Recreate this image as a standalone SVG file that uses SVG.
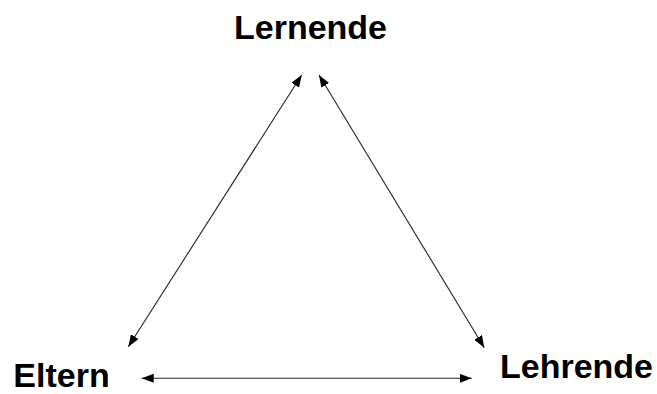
<svg xmlns="http://www.w3.org/2000/svg" width="657" height="394" viewBox="0 0 657 394">
<style>
.lbl{font-family:"Liberation Sans",Arial,sans-serif;font-weight:bold;font-size:34px;fill:#000;text-anchor:middle}
.con{stroke:#222;stroke-width:1.1;fill:none;marker-start:url(#ah);marker-end:url(#ah)}
</style>
<defs>
<marker id="ah" markerUnits="userSpaceOnUse" markerWidth="13" markerHeight="10" refX="12" refY="4.5" orient="auto-start-reverse">
<path d="M0,0 L12,4.5 L0,9 z" fill="#000"/>
</marker>
</defs>
<rect width="657" height="394" fill="#fff"/>
<g id="connectors">
<line class="con" x1="301.7" y1="75" x2="128.3" y2="346.7"/>
<line class="con" x1="319" y1="75" x2="484.3" y2="347.7"/>
<line class="con" x1="141.7" y1="378.3" x2="471.7" y2="378.3"/>
</g>
<g id="lernende"><text class="lbl" x="310.5" y="39">Lernende</text></g>
<g id="eltern"><text class="lbl" x="61.5" y="386.5">Eltern</text></g>
<g id="lehrende"><text class="lbl" x="576.5" y="378">Lehrende</text></g>
</svg>
